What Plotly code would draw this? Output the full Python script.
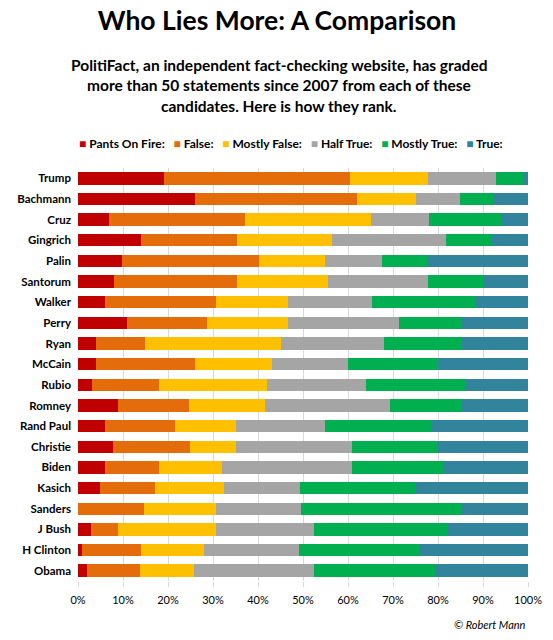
import plotly.graph_objects as go

candidates = ["Trump", "Bachmann", "Cruz", "Gingrich", "Palin", "Santorum", "Walker",
              "Perry", "Ryan", "McCain", "Rubio", "Romney", "Rand Paul", "Christie",
              "Biden", "Kasich", "Sanders", "J Bush", "H Clinton", "Obama"]

# share of graded statements, percent
pants_on_fire = [19.2, 26.0, 6.9, 14.1, 9.8, 8.1, 6.0, 10.8, 3.9, 3.9,
                 3.0, 8.8, 6.0, 7.8, 6.0, 4.9, 0.0, 2.8, 0.9, 2.0]
false_ = [41.3, 35.9, 30.1, 21.3, 30.4, 27.3, 24.6, 17.8, 11.0, 22.1,
          14.9, 15.9, 15.6, 17.1, 11.9, 12.2, 14.7, 6.0, 13.1, 11.8]
mostly_false = [17.3, 13.1, 28.0, 21.1, 14.6, 20.1, 16.0, 18.0, 30.1, 17.0,
                24.1, 16.9, 13.6, 10.2, 14.2, 15.3, 16.0, 21.8, 13.9, 11.9]
half_true = [15.1, 9.9, 13.0, 25.3, 12.8, 22.3, 18.8, 24.7, 23.0, 17.1,
             21.9, 27.7, 19.6, 25.8, 28.8, 17.0, 18.8, 21.8, 21.2, 26.7]
mostly_true = [6.2, 7.3, 16.1, 10.2, 10.0, 12.2, 22.9, 13.9, 17.0, 20.0,
               22.1, 15.9, 23.7, 19.2, 20.1, 25.4, 35.7, 29.8, 27.0, 26.9]
true_ = [0.9, 7.8, 5.9, 8.0, 22.4, 10.0, 11.7, 14.8, 15.0, 19.9,
         14.0, 14.8, 21.5, 19.9, 19.0, 25.2, 14.8, 17.8, 23.9, 20.7]

series_names = ["Pants On Fire:", "False:", "Mostly False:", "Half True:", "Mostly True:", "True:"]
series_values = [pants_on_fire, false_, mostly_false, half_true, mostly_true, true_]
colors = ["#C00000", "#E46C0A", "#FFC000", "#A5A5A5", "#00B050", "#31849B"]

subtitle_lines = [
    "PolitiFact, an independent fact-checking website, has graded",
    "more than 50 statements since 2007 from each of these",
    "candidates. Here is how they rank.",
]

FONT = "Lato"

W, H = 553, 640
PLOT_LEFT, PLOT_RIGHT = 78, 528
PLOT_TOP, PLOT_BOTTOM = 167.7, 581.3


def px_(x_px):
    # page pixel column -> paper x
    return (x_px - PLOT_LEFT) / (PLOT_RIGHT - PLOT_LEFT)


def py(y_px):
    # page pixel row -> paper y
    return (PLOT_BOTTOM - y_px) / (PLOT_BOTTOM - PLOT_TOP)


fig = go.Figure()
for name, vals, col in zip(series_names, series_values, colors):
    fig.add_trace(go.Bar(
        y=candidates, x=vals, name=name, orientation="h",
        marker=dict(color=col, line=dict(width=0)),
    ))

# legend drawn as one line of text with coloured squares
legend_text = "\u00a0\u00a0\u00a0".join(
    f"<span style='color:{c}'>\u25a0</span>\u00a0{n}" for n, c in zip(series_names, colors)
)

annotations = [
    dict(text=legend_text, xref="paper", yref="paper", x=px_(290.5), y=py(143),
         xanchor="center", yanchor="middle", showarrow=False,
         font=dict(family=FONT, size=12, color="#000000", weight="bold")),
    dict(text="© Robert Mann", xref="paper", yref="paper", x=1.0, y=py(625),
         xanchor="right", yanchor="middle", showarrow=False,
         font=dict(family=FONT, size=11, color="#000000", style="italic")),
]
for i, line in enumerate(subtitle_lines):
    annotations.append(dict(
        text=line, xref="paper", yref="paper", x=px_(279),
        y=py(64.5 + 20.5 * i), xanchor="center", yanchor="middle",
        showarrow=False, font=dict(family=FONT, size=15.5, color="#000000", weight="bold"),
    ))

fig.update_layout(
    width=W, height=H,
    barmode="stack", bargap=0.4,
    showlegend=False,
    paper_bgcolor="white", plot_bgcolor="white",
    margin=dict(l=PLOT_LEFT, r=W - PLOT_RIGHT, t=PLOT_TOP, b=H - PLOT_BOTTOM),
    font=dict(family=FONT, color="#000000"),
    title=dict(text="<b>Who Lies More: A Comparison</b>", x=277 / W, xanchor="center",
               xref="container", y=1 - 20.5 / H, yanchor="middle",
               font=dict(family=FONT, size=26.5, color="#000000")),
    annotations=annotations,
)
fig.update_xaxes(
    range=[0, 100], dtick=10, ticksuffix="%",
    showgrid=True, gridcolor="#D9D9D9", gridwidth=1,
    ticks="outside", ticklen=5, tickcolor="#D9D9D9",
    showline=False, zeroline=False, ticklabelstandoff=4,
    tickfont=dict(family=FONT, size=11, color="#000000"),
)
fig.update_yaxes(
    autorange="reversed", showgrid=False, ticks="", ticklabelstandoff=6,
    tickfont=dict(family=FONT, size=11.5, color="#000000", weight="bold"),
)

# drop the browser's default body margin so the figure fills the window
fig.write_html(
    "out.html",
    config={"displayModeBar": False},
    post_script="document.body.style.margin = '0';",
)
